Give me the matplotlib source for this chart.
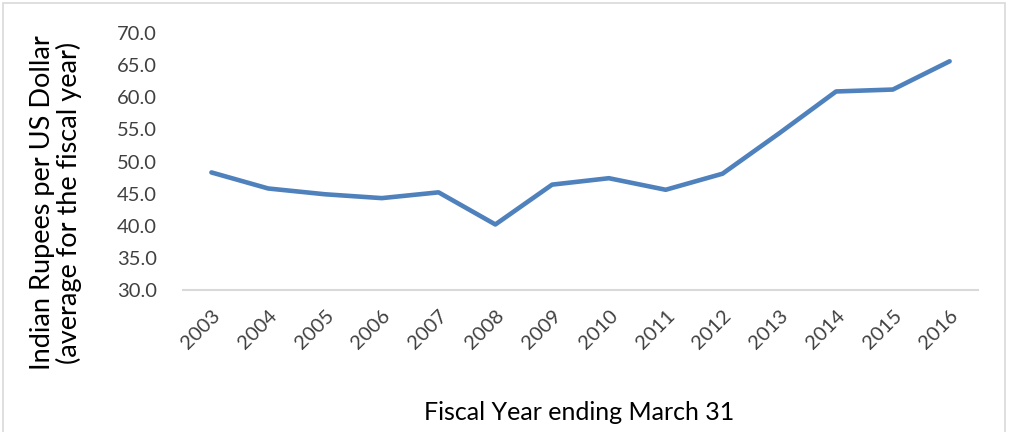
import matplotlib.pyplot as plt
import matplotlib.patches as patches
import numpy as np

# fiscal years (ending March 31) and average INR per USD
years = ['2003', '2004', '2005', '2006', '2007', '2008', '2009',
         '2010', '2011', '2012', '2013', '2014', '2015', '2016']
rupees = [48.3, 45.8, 44.9, 44.3, 45.2, 40.2, 46.4,
          47.4, 45.6, 48.1, 54.4, 60.9, 61.2, 65.6]
y_ticks = [30.0, 35.0, 40.0, 45.0, 50.0, 55.0, 60.0, 65.0, 70.0]

plt.rcParams['font.family'] = ['Lato', 'DejaVu Sans']

fig = plt.figure(figsize=(10.09, 4.32), dpi=100)
ax = fig.add_axes([0.1814, 0.3287, 0.7879, 0.5949])

x = np.arange(len(years))
ax.plot(x, rupees, color='#4F81BD', linewidth=3.3, solid_capstyle='round',
        solid_joinstyle='round')

ax.set_xlim(-0.5, len(years) - 0.5)
ax.set_ylim(30, 70)
ax.set_yticks(y_ticks)
ax.set_yticklabels([f'{v:.1f}' for v in y_ticks])
ax.set_xticks(x)
ax.set_xticklabels(years, rotation=45, ha='right', va='top',
                   rotation_mode='anchor')

for side in ['top', 'right', 'left']:
    ax.spines[side].set_visible(False)
ax.spines['bottom'].set_color('#D9D9D9')
ax.spines['bottom'].set_linewidth(1.5)

ax.tick_params(axis='y', length=0, pad=19, labelsize=14.5, labelcolor='#404040')
ax.tick_params(axis='x', length=0, pad=12, labelsize=14.5, labelcolor='#404040')

fig.text(0.0555, 0.53, 'Indian Rupees per US Dollar\n(average for the fiscal year)',
         rotation=90, ha='center', va='center', fontsize=19.5,
         linespacing=1.05)
fig.text(0.574, 0.045, 'Fiscal Year ending March 31', ha='center', va='center',
         fontsize=18)

# light chart-area border
fig.patches.append(patches.Rectangle((0.003, -0.05), 0.993, 1.043,
                                     transform=fig.transFigure, fill=False,
                                     edgecolor='#D9D9D9', linewidth=1.2))

plt.savefig('out.png', dpi=100)
